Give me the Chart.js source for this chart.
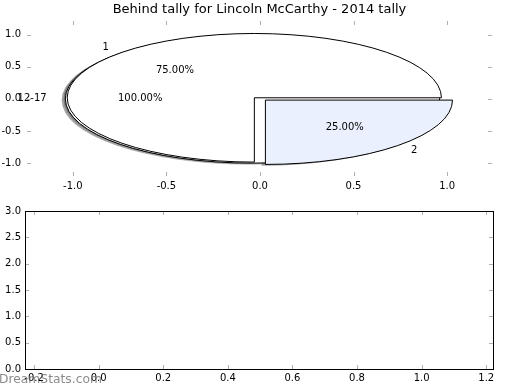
<!DOCTYPE html>
<html>
<head>
<meta charset="utf-8">
<script src="https://cdn.jsdelivr.net/npm/chart.js@4.4.1/dist/chart.umd.min.js"></script>
<style>
  html, body { margin: 0; padding: 0; background: #fff; }
  #wrap { position: relative; width: 520px; height: 390px; }
  .box { position: absolute; left: 0; width: 520px; height: 195px; }
  #mark { position: absolute; left: -1px; top: 372px; font: 12.3px "DejaVu Sans"; color: rgba(110,110,110,0.8); white-space: nowrap; }
</style>
</head>
<body>
<div id="wrap">
  <div class="box" style="top:0"><canvas id="pieAxes" width="520" height="195"></canvas></div>
  <div class="box" style="top:195px"><canvas id="emptyAxes" width="520" height="195"></canvas></div>
  <div id="mark">DreamStats.com</div>
</div>
<script>
// --- data ---
const chartTitle = "Behind tally for Lincoln McCarthy - 2014 tally";
const pieLabels = ["1", "2"];
const pieValues = [75, 25];
const pieColors = ["#ffffff", "#eaf0fd"];
const fullLabels = ["12-17"];
const fullValues = [100];
const fullColors = ["#ffffff"];

const topXTicks = [-1.0, -0.5, 0.0, 0.5, 1.0];
const topYTicks = [-1.0, -0.5, 0.0, 0.5, 1.0];
const bottomXTicks = [-0.2, 0.0, 0.2, 0.4, 0.6, 0.8, 1.0, 1.2];
const bottomYTicks = [0.0, 0.5, 1.0, 1.5, 2.0, 2.5, 3.0];

// where the two pies sit (data units) and the explode shift of each wedge
const pieLayout = {
  fullCenter: [-0.04, 0.0],
  pieCenter: [-0.03, 0.016],
  pieShift: [[0, 0], [0.059, -0.036]],
  shadow: [-0.02, -0.02]
};

Chart.defaults.font.family = "DejaVu Sans";
Chart.defaults.font.size = 10;
Chart.defaults.color = "#000";

// matplotlib style ticks pointing into the axes, on all four sides
const insideTicks = {
  id: 'insideTicks',
  afterDraw(chart, args, opts) {
    const {ctx, chartArea: a, scales: {x, y}} = chart;
    ctx.save();
    ctx.strokeStyle = '#b0b0b0';
    ctx.lineWidth = 1;
    ctx.beginPath();
    x.ticks.forEach(t => {
      const px = Math.round(x.getPixelForValue(t.value)) + 0.5;
      ctx.moveTo(px, a.bottom); ctx.lineTo(px, a.bottom - 4);
      ctx.moveTo(px, a.top); ctx.lineTo(px, a.top + 4);
    });
    y.ticks.forEach(t => {
      const py = Math.round(y.getPixelForValue(t.value)) + 0.5;
      ctx.moveTo(a.left, py); ctx.lineTo(a.left + 4, py);
      ctx.moveTo(a.right, py); ctx.lineTo(a.right - 4, py);
    });
    ctx.stroke();
    if (opts.frame) {
      ctx.strokeStyle = '#000';
      ctx.strokeRect(Math.round(a.left) + 0.5, Math.round(a.top) + 0.5,
        Math.round(a.right - a.left), Math.round(a.bottom - a.top));
    }
    ctx.restore();
  }
};

const axesTitle = {
  id: 'axesTitle',
  afterDraw(chart, args, opts) {
    if (!opts.text) return;
    const {ctx, chartArea: a} = chart;
    ctx.save();
    ctx.font = '13px "DejaVu Sans"';
    ctx.fillStyle = '#000';
    ctx.textAlign = 'center';
    ctx.textBaseline = 'middle';
    ctx.fillText(opts.text, (a.left + a.right) / 2, 10);
    ctx.restore();
  }
};

// elliptic pie drawn through the x / y scales (axes are not equal aspect)
const ellipsePie = {
  id: 'ellipsePie',
  afterDatasetsDraw(chart) {
    const {ctx, scales: {x, y}} = chart;
    const rx = x.getPixelForValue(1) - x.getPixelForValue(0);
    const ry = y.getPixelForValue(0) - y.getPixelForValue(1);
    const wedges = [];

    function addPie(values, labels, colors, center, shifts) {
      const total = values.reduce((s, v) => s + v, 0);
      let start = 0;
      values.forEach((v, i) => {
        const sweep = v / total * 2 * Math.PI;
        const sh = shifts ? shifts[i] : [0, 0];
        wedges.push({
          cx: center[0] + sh[0], cy: center[1] + sh[1],
          a0: start, a1: start + sweep,
          full: sweep > 2 * Math.PI - 1e-9,
          color: colors[i], label: labels[i],
          pct: (v / total * 100).toFixed(2) + '%'
        });
        start += sweep;
      });
    }
    addPie(fullValues, fullLabels, fullColors, pieLayout.fullCenter, null);
    addPie(pieValues, pieLabels, pieColors, pieLayout.pieCenter, pieLayout.pieShift);

    function path(w, ox, oy) {
      const cx = x.getPixelForValue(w.cx + ox);
      const cy = y.getPixelForValue(w.cy + oy);
      ctx.beginPath();
      if (w.full) {
        ctx.ellipse(cx, cy, rx, ry, 0, 0, 2 * Math.PI);
      } else {
        ctx.moveTo(cx, cy);
        ctx.ellipse(cx, cy, rx, ry, 0, -w.a0, -w.a1, true);
        ctx.closePath();
      }
    }

    ctx.save();
    // shadows first
    ctx.fillStyle = 'rgba(77,77,77,0.5)';
    wedges.forEach(w => { path(w, pieLayout.shadow[0], pieLayout.shadow[1]); ctx.fill(); });
    // wedges
    ctx.lineWidth = 1;
    ctx.strokeStyle = '#000';
    wedges.forEach(w => {
      path(w, 0, 0);
      ctx.fillStyle = w.color;
      ctx.fill();
      ctx.stroke();
    });
    // labels and percentages
    ctx.fillStyle = '#000';
    ctx.font = '10px "DejaVu Sans"';
    ctx.textBaseline = 'middle';
    wedges.forEach(w => {
      const mid = (w.a0 + w.a1) / 2;
      const c = Math.cos(mid), s = Math.sin(mid);
      ctx.textAlign = c > 0 ? 'left' : 'right';
      ctx.fillText(w.label, x.getPixelForValue(w.cx + 1.1 * c), y.getPixelForValue(w.cy + 1.1 * s));
      ctx.textAlign = 'center';
      ctx.fillText(w.pct, x.getPixelForValue(w.cx + 0.6 * c), y.getPixelForValue(w.cy + 0.6 * s));
    });
    ctx.restore();
  }
};

function axis(min, max, ticks, fit, pad) {
  return {
    type: 'linear', min: min, max: max,
    grid: { display: false, drawTicks: false }, border: { display: false },
    ticks: { padding: pad, autoSkip: false, maxRotation: 0, callback: v => v.toFixed(1) },
    afterBuildTicks: s => { s.ticks = ticks.map(v => ({ value: v })); },
    afterFit: fit
  };
}

new Chart(document.getElementById('pieAxes'), {
  type: 'scatter',
  data: { datasets: [] },
  options: {
    responsive: false, animation: false, devicePixelRatio: 1,
    layout: { padding: { left: 0, right: 28, top: 21, bottom: 0 } },
    plugins: {
      legend: { display: false }, tooltip: { enabled: false },
      axesTitle: { text: chartTitle },
      insideTicks: { frame: false }
    },
    scales: {
      x: axis(-1.245, 1.24, topXTicks, s => { s.height = 19; }, 4),
      y: axis(-1.2, 1.21, topYTicks, s => { s.width = 27; }, 6)
    }
  },
  plugins: [ellipsePie, insideTicks, axesTitle]
});

new Chart(document.getElementById('emptyAxes'), {
  type: 'scatter',
  data: { datasets: [] },
  options: {
    responsive: false, animation: false, devicePixelRatio: 1,
    layout: { padding: { left: 0, right: 27, top: 16, bottom: 0 } },
    plugins: {
      legend: { display: false }, tooltip: { enabled: false },
      insideTicks: { frame: true }
    },
    scales: {
      x: axis(-0.228, 1.221, bottomXTicks, s => { s.height = 21; }, 3),
      y: axis(0, 3, bottomYTicks, s => { s.width = 25; }, 4)
    }
  },
  plugins: [insideTicks]
});
</script>
</body>
</html>
